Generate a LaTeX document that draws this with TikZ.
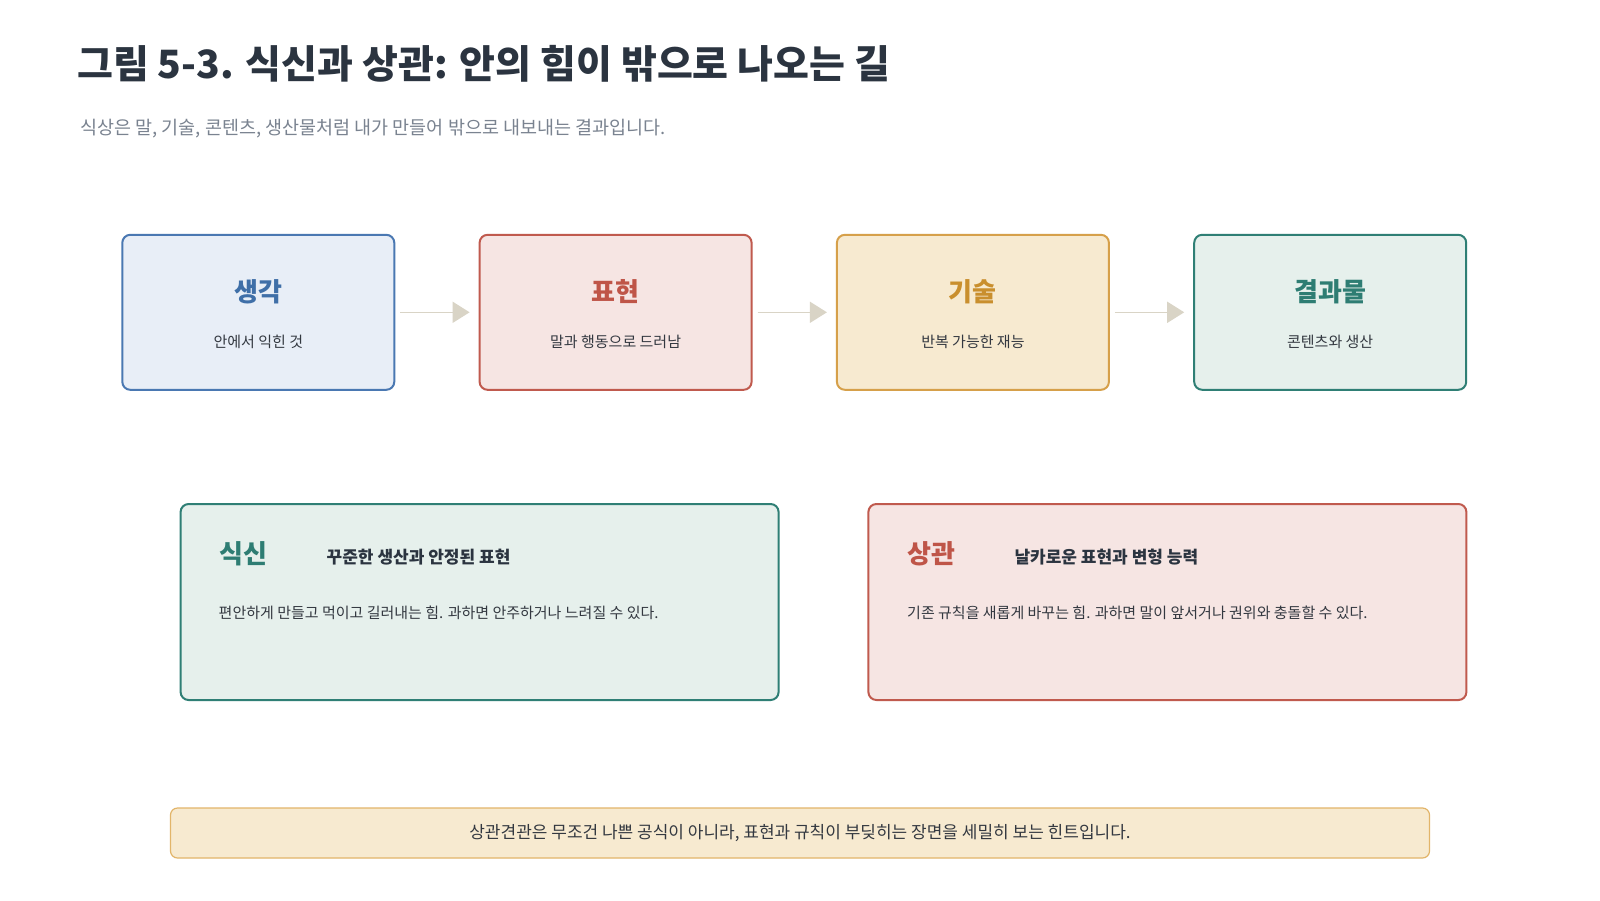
\documentclass[tikz,border=0pt]{standalone}
\usepackage{fontspec}
\setmainfont{Noto Sans CJK KR}
\usetikzlibrary{arrows.meta}
\definecolor{titlec}{HTML}{2B3440}
\definecolor{subc}{HTML}{7A8390}
\definecolor{bodyc}{HTML}{333840}
\definecolor{blueB}{HTML}{4A78B2}
\definecolor{blueF}{HTML}{E8EEF7}
\definecolor{blueT}{HTML}{3F6FA8}
\definecolor{redB}{HTML}{C05A4E}
\definecolor{redF}{HTML}{F6E5E3}
\definecolor{redT}{HTML}{BF5548}
\definecolor{yelB}{HTML}{D6A04A}
\definecolor{yelF}{HTML}{F7EAD0}
\definecolor{yelT}{HTML}{C98F2E}
\definecolor{grnB}{HTML}{2F7F75}
\definecolor{grnF}{HTML}{E6F0EC}
\definecolor{grnT}{HTML}{2E7D73}
\definecolor{arrc}{HTML}{D9D4C6}
\definecolor{footB}{HTML}{E2B56A}
\tikzset{
  flowbox/.style={draw, line width=2pt, rounded corners=8pt, minimum width=272pt, minimum height=155pt, inner sep=0pt},
  bigbox/.style={draw, line width=2pt, rounded corners=8pt, minimum width=598pt, minimum height=196pt, inner sep=0pt},
  boxtitle/.style={font=\fontsize{26}{30}\selectfont\bfseries, inner sep=0pt},
  boxsub/.style={font=\fontsize{15}{18}\selectfont, text=bodyc, inner sep=0pt},
  flowarrow/.style={draw=arrc, line width=1.5pt, -{Triangle[length=17pt, width=21pt]}},
  headtxt/.style={font=\fontsize{26}{30}\selectfont\bfseries, anchor=west, inner sep=0pt},
  subhead/.style={font=\fontsize{17}{20}\selectfont\bfseries, text=titlec, anchor=west, inner sep=0pt},
  bodytxt/.style={font=\fontsize{15}{18}\selectfont, text=bodyc, anchor=west, inner sep=0pt},
}
\begin{document}
\begin{tikzpicture}[x=1pt, y=-1pt]
\useasboundingbox (0,0) rectangle (1600,900);
\fill[white] (0,0) rectangle (1600,900);
% title
\node[anchor=west, inner sep=0pt, text=titlec, font=\fontsize{39}{44}\selectfont\bfseries] (title) at (77,64) {그림 5-3. 식신과 상관: 안의 힘이 밖으로 나오는 길};
\node[anchor=west, inner sep=0pt, text=subc, font=\fontsize{18.5}{22}\selectfont] (subtitle) at (80,128.5) {식상은 말, 기술, 콘텐츠, 생산물처럼 내가 만들어 밖으로 내보내는 결과입니다.};
% flow boxes
\node[flowbox, draw=blueB, fill=blueF] (b1) at (258.3,312.3) {};
\node[flowbox, draw=redB, fill=redF] (b2) at (615.6,312.3) {};
\node[flowbox, draw=yelB, fill=yelF] (b3) at (972.9,312.3) {};
\node[flowbox, draw=grnB, fill=grnF] (b4) at (1330.2,312.3) {};
\node[boxtitle, text=blueT] (t1) at ([yshift=20.5pt]b1.center) {생각};
\node[boxsub] (s1) at ([yshift=-29.6pt]b1.center) {안에서 익힌 것};
\node[boxtitle, text=redT] (t2) at ([yshift=20.5pt]b2.center) {표현};
\node[boxsub] (s2) at ([yshift=-29.6pt]b2.center) {말과 행동으로 드러남};
\node[boxtitle, text=yelT] (t3) at ([yshift=20.5pt]b3.center) {기술};
\node[boxsub] (s3) at ([yshift=-29.6pt]b3.center) {반복 가능한 재능};
\node[boxtitle, text=grnT] (t4) at ([yshift=20.5pt]b4.center) {결과물};
\node[boxsub] (s4) at ([yshift=-29.6pt]b4.center) {콘텐츠와 생산};
% arrows
\draw[flowarrow] ([xshift=5pt]b1.east) -- ([xshift=-9pt]b2.west);
\draw[flowarrow] ([xshift=5pt]b2.east) -- ([xshift=-9pt]b3.west);
\draw[flowarrow] ([xshift=5pt]b3.east) -- ([xshift=-9pt]b4.west);
% bottom boxes
\node[bigbox, draw=grnB, fill=grnF] (sik) at (479.6,602) {};
\node[bigbox, draw=redB, fill=redF] (sang) at (1167.4,602) {};
\node[headtxt, text=grnT] (h1) at (219,554) {식신};
\node[subhead] (sh1) at (326.5,557) {꾸준한 생산과 안정된 표현};
\node[bodytxt] (bd1) at (218.5,613) {편안하게 만들고 먹이고 길러내는 힘. 과하면 안주하거나 느려질 수 있다.};
\node[headtxt, text=redT] (h2) at (907,554) {상관};
\node[subhead] (sh2) at (1014.3,557) {날카로운 표현과 변형 능력};
\node[bodytxt] (bd2) at (907,613) {기존 규칙을 새롭게 바꾸는 힘. 과하면 말이 앞서거나 권위와 충돌할 수 있다.};
% footer
\node[draw=footB, fill=yelF, line width=1.2pt, rounded corners=7pt, minimum width=1259pt, minimum height=50pt, inner sep=0pt] (foot) at (800,833) {};
\node[inner sep=0pt, text=bodyc, font=\fontsize{17}{20}\selectfont] (foottxt) at (foot.center) {상관견관은 무조건 나쁜 공식이 아니라, 표현과 규칙이 부딪히는 장면을 세밀히 보는 힌트입니다.};
\end{tikzpicture}
\end{document}
